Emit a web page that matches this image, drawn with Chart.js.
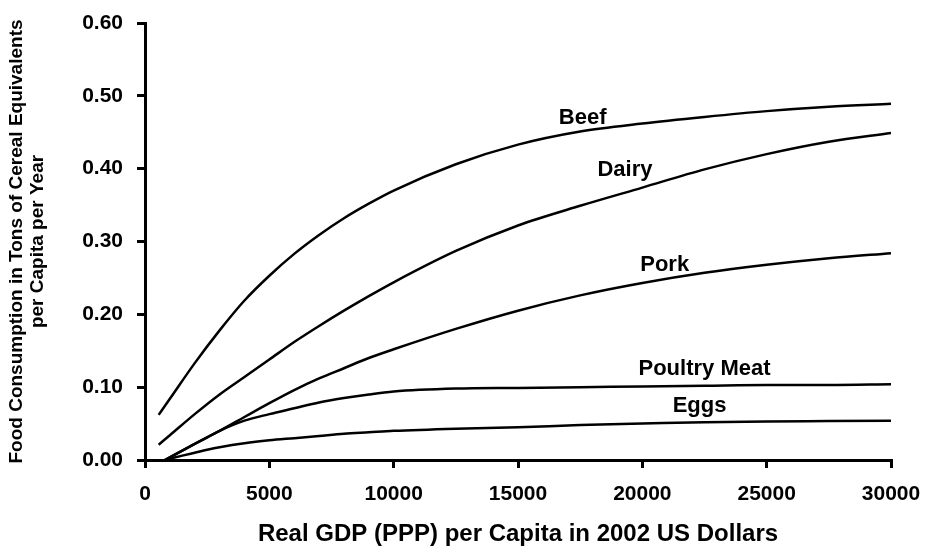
<!DOCTYPE html>
<html>
<head>
<meta charset="utf-8">
<script src="https://cdn.jsdelivr.net/npm/chart.js@4/dist/chart.umd.min.js"></script>
<style>
  body { margin: 0; background: #fff; }
  canvas { display: block; }
</style>
</head>
<body>
<canvas id="foodChart" width="926" height="549"></canvas>
<script>
// GDP per capita points (x) - beef/dairy start a bit earlier than the rest
let gdpA = [550, 1000, 2000, 3000, 4000, 5000, 6000, 7000, 8000, 9000, 10000, 12500, 15000, 17500, 20000, 22500, 25000, 27500, 30000];
let gdpB = [800, 1500, 2000, 2500, 3000, 4000, 5000, 6000, 7000, 8000, 9000, 10000, 12500, 15000, 17500, 20000, 22500, 25000, 27500, 30000];

let beef = [0.062, 0.084, 0.133, 0.178, 0.219, 0.253, 0.283, 0.309, 0.332, 0.352, 0.370, 0.406, 0.433, 0.451, 0.462, 0.471, 0.479, 0.485, 0.489];
let dairy = [0.021, 0.034, 0.063, 0.090, 0.114, 0.138, 0.162, 0.184, 0.205, 0.225, 0.244, 0.287, 0.322, 0.349, 0.374, 0.399, 0.420, 0.437, 0.449];
let pork = [0.000, 0.013, 0.022, 0.031, 0.040, 0.059, 0.078, 0.096, 0.112, 0.126, 0.140, 0.152, 0.180, 0.205, 0.226, 0.243, 0.257, 0.268, 0.277, 0.284];
let poultry = [0.000, 0.013, 0.022, 0.031, 0.040, 0.054, 0.063, 0.071, 0.079, 0.085, 0.090, 0.094, 0.098, 0.099, 0.100, 0.101, 0.102, 0.103, 0.103, 0.104];
let eggs = [0.000, 0.006, 0.010, 0.014, 0.0175, 0.023, 0.027, 0.030, 0.033, 0.036, 0.038, 0.040, 0.043, 0.045, 0.048, 0.050, 0.052, 0.053, 0.0535, 0.054];

// in-plot series names and where they sit (data units)
let seriesNames = ['Beef', 'Dairy', 'Pork', 'Poultry Meat', 'Eggs'];
let labelX = [17600, 19300, 20900, 22500, 22300];
let labelY = [0.470, 0.398, 0.268, 0.125, 0.074];

let fontFamily = '"Liberation Sans", Arial, sans-serif';
Chart.defaults.font.family = fontFamily;
Chart.defaults.color = '#000';

function toPoints(xs, ys) {
    return xs.map((x, i) => ({ x: x, y: ys[i] }));
}

function makeSet(name, xs, ys) {
    return {
        label: name,
        data: toPoints(xs, ys),
        borderColor: '#000',
        borderWidth: 2.5,
        pointRadius: 0,
        showLine: true,
        fill: false,
        cubicInterpolationMode: 'monotone'
    };
}

const curveLabels = {
    id: 'curveLabels',
    afterDatasetsDraw(chart) {
        let ctx = chart.ctx;
        let xs = chart.scales.x;
        let ys = chart.scales.y;
        ctx.save();
        ctx.font = 'bold 22px ' + fontFamily;
        ctx.fillStyle = '#000';
        ctx.textAlign = 'center';
        ctx.textBaseline = 'middle';
        seriesNames.forEach((name, i) => {
            ctx.fillText(name, xs.getPixelForValue(labelX[i]), ys.getPixelForValue(labelY[i]));
        });
        ctx.restore();
    }
};

let ctx = document.getElementById('foodChart').getContext('2d');
let chart = new Chart(ctx, {
    type: 'scatter',
    data: {
        datasets: [
            makeSet('Beef', gdpA, beef),
            makeSet('Dairy', gdpA, dairy),
            makeSet('Pork', gdpB, pork),
            makeSet('Poultry Meat', gdpB, poultry),
            makeSet('Eggs', gdpB, eggs)
        ]
    },
    options: {
        responsive: false,
        animation: false,
        layout: { padding: { left: 0, right: 35, top: 23, bottom: 0 } },
        plugins: {
            legend: { display: false },
            tooltip: { enabled: false }
        },
        scales: {
            x: {
                type: 'linear',
                min: 0,
                max: 30000,
                afterFit: (scale) => {
                    scale.height = 89;
                    scale.paddingLeft = 0;
                    scale.paddingRight = 0;
                },
                border: { color: '#000', width: 3 },
                grid: { drawOnChartArea: false, color: '#000', lineWidth: 3, tickLength: 8 },
                ticks: {
                    stepSize: 5000,
                    padding: 14,
                    maxRotation: 0,
                    font: { size: 21, weight: 'bold' },
                    callback: (v) => String(v)
                },
                title: {
                    display: true,
                    text: 'Real GDP (PPP) per Capita in 2002 US Dollars',
                    font: { size: 24, weight: 'bold', lineHeight: 1.2 },
                    padding: { top: 0, bottom: 0 }
                }
            },
            y: {
                min: 0,
                max: 0.6,
                afterFit: (scale) => {
                    scale.width = 145;
                    scale.paddingTop = 0;
                    scale.paddingBottom = 0;
                },
                border: { color: '#000', width: 3 },
                grid: { drawOnChartArea: false, color: '#000', lineWidth: 3, tickLength: 8 },
                ticks: {
                    stepSize: 0.1,
                    padding: 14,
                    font: { size: 21, weight: 'bold' },
                    callback: (v) => v.toFixed(2)
                },
                title: {
                    display: true,
                    text: ['Food Consumption in Tons of Cereal Equivalents', 'per Capita per Year'],
                    font: { size: 19, weight: 'bold', lineHeight: 1.1 },
                    padding: { top: 6, bottom: 0 }
                }
            }
        }
    },
    plugins: [curveLabels]
});
</script>
</body>
</html>
